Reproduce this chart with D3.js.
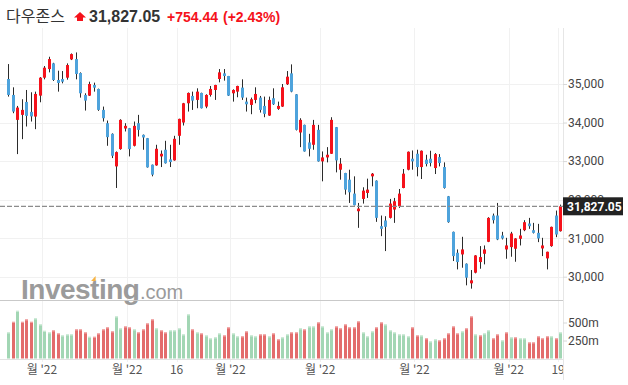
<!DOCTYPE html>
<html>
<head>
<meta charset="utf-8">
<script src="https://cdn.jsdelivr.net/npm/d3@7"></script>
<style>
  body { margin: 0; background: #fff; }
  svg { display: block; }
</style>
</head>
<body>
<svg id="chart" width="628" height="385"></svg>
<script>
// trading days, 2022-01-20 .. 2022-07-19
const dates = [
  "2022-01-20","2022-01-21","2022-01-24","2022-01-25","2022-01-26","2022-01-27","2022-01-28","2022-01-31",
  "2022-02-01","2022-02-02","2022-02-03","2022-02-04","2022-02-07","2022-02-08","2022-02-09","2022-02-10",
  "2022-02-11","2022-02-14","2022-02-15","2022-02-16","2022-02-17","2022-02-18","2022-02-22","2022-02-23",
  "2022-02-24","2022-02-25","2022-02-28",
  "2022-03-01","2022-03-02","2022-03-03","2022-03-04","2022-03-07","2022-03-08","2022-03-09","2022-03-10",
  "2022-03-11","2022-03-14","2022-03-15","2022-03-16","2022-03-17","2022-03-18","2022-03-21","2022-03-22",
  "2022-03-23","2022-03-24","2022-03-25","2022-03-28","2022-03-29","2022-03-30","2022-03-31",
  "2022-04-01","2022-04-04","2022-04-05","2022-04-06","2022-04-07","2022-04-08","2022-04-11","2022-04-12",
  "2022-04-13","2022-04-14","2022-04-18","2022-04-19","2022-04-20","2022-04-21","2022-04-22","2022-04-25",
  "2022-04-26","2022-04-27","2022-04-28","2022-04-29",
  "2022-05-02","2022-05-03","2022-05-04","2022-05-05","2022-05-06","2022-05-09","2022-05-10","2022-05-11",
  "2022-05-12","2022-05-13","2022-05-16","2022-05-17","2022-05-18","2022-05-19","2022-05-20","2022-05-23",
  "2022-05-24","2022-05-25","2022-05-26","2022-05-27","2022-05-31",
  "2022-06-01","2022-06-02","2022-06-03","2022-06-06","2022-06-07","2022-06-08","2022-06-09","2022-06-10",
  "2022-06-13","2022-06-14","2022-06-15","2022-06-16","2022-06-17","2022-06-21","2022-06-22","2022-06-23",
  "2022-06-24","2022-06-27","2022-06-28","2022-06-29","2022-06-30",
  "2022-07-01","2022-07-05","2022-07-06","2022-07-07","2022-07-08","2022-07-11","2022-07-12","2022-07-13",
  "2022-07-14","2022-07-15","2022-07-18","2022-07-19"
];

const open = [
  35129,34716,34069,34199,34535,34276,34155,34698,35164,35388,35535,35104,35129,35164,35638,35647,
  35285,34716,34698,34974,34871,34328,33983,33707,32862,33311,33845,33854,33397,33983,33681,33595,
  32906,32888,33121,33294,33044,33018,33656,34000,34500,34690,34587,34768,34414,34716,34845,35130,
  35276,35207,34759,34802,34906,34543,34457,34587,34647,34431,34181,34630,34354,34414,34992,35276,
  34733,33742,33940,33483,33423,33811,32992,33095,33190,33880,32776,32690,32518,32156,31699,32018,
  32173,32604,32492,31311,31458,31527,31742,31828,32302,32776,33061,33190,32845,33035,33061,32819,
  33104,32845,32087,31164,30621,30578,30337,29828,30104,30380,30595,30906,31587,31587,31069,30707,
  30768,30725,30983,31207,31380,31207,31138,30733,30475,30794,31587,31181
];
const high = [
  35517,34914,34431,34604,34845,34785,34802,35180,35466,35707,35550,35345,35336,35535,35793,35819,
  35302,34759,35060,35035,34880,34414,34052,33720,33250,34086,33983,33860,34026,34199,33690,33600,
  32910,33423,33276,33526,33423,33656,34100,34510,34780,34802,34888,34775,34733,34949,34980,35388,
  35388,35210,34862,34955,35121,34647,34647,34914,34690,34673,34673,34888,34543,35000,35336,35509,
  34740,34112,33945,33707,34069,33940,33250,33362,34138,33885,33078,32695,32776,32604,31914,32320,
  32544,32690,32500,31587,31570,32018,32044,32276,32794,33250,33276,33294,33276,33164,33268,33207,
  33181,32966,32095,31170,30707,31035,30345,30173,30560,30794,30811,31544,31638,31914,31164,31009,
  31164,31000,31242,31466,31526,31397,31371,31009,30650,31300,31716,31870
];
const low = [
  34673,34242,33181,33569,33897,34026,33828,34526,35121,35302,35078,34802,35017,35112,35621,35121,
  34647,34311,34690,34802,34302,34026,33397,33078,32302,33294,33768,33121,33380,33638,33294,32830,
  32604,32880,32845,32935,32845,33010,33423,33923,34285,34328,34371,34365,34371,34673,34587,35043,
  35087,34690,34543,34656,34587,34285,34216,34500,34259,34138,34173,34457,34328,34405,34975,34785,
  33794,33362,33245,33121,33294,32985,32475,32966,33185,32707,32518,32130,31914,31850,31268,31897,
  32044,32345,31423,31052,30665,31510,31397,31785,32295,32760,32776,32604,32535,32862,32862,32664,
  32862,32285,31400,30406,30190,30233,29776,29690,30087,30207,30320,30897,31380,30949,30966,30466,
  30518,30388,30811,31181,31242,31121,30897,30535,30190,30776,31026,31170
];
const close = [
  34716,34285,34388,34328,34173,34160,34742,35164,35423,35647,35104,35026,35060,35492,35776,35259,
  34759,34569,35000,34905,34328,34112,33621,33138,33233,34069,33914,33311,33914,33810,33612,32837,
  32647,33319,33190,32944,32975,33578,34095,34500,34768,34569,34802,34371,34716,34871,34974,35302,
  35207,34699,34845,34949,34647,34474,34604,34742,34328,34225,34587,34474,34431,34914,35190,34802,
  33811,34069,33250,33319,33940,32992,33095,33164,34069,33018,32932,32259,32190,31854,31768,32233,
  32259,32673,31527,31242,31294,31897,31958,32156,32673,33242,32992,32845,33268,32923,32949,33181,
  32949,32302,31415,30535,30380,30707,29975,29906,30552,30509,30707,31526,31466,30966,30992,30811,
  31121,30992,31069,31414,31311,31138,30992,30811,30647,31293,31095,31827.05
];
// volume, millions
const volume = [
  361,509,662,509,542,509,556,472,384,361,389,347,319,333,333,403,
  403,361,301,301,347,403,431,375,583,417,444,431,403,361,403,486,
  542,417,389,361,389,389,417,333,611,403,361,347,319,278,292,347,
  319,431,347,306,306,375,319,306,333,333,306,347,264,292,333,361,
  361,417,403,444,444,500,444,361,403,444,417,472,431,431,514,361,
  306,375,431,500,472,389,361,333,333,306,431,319,319,278,236,264,
  250,278,347,444,347,375,417,583,333,319,347,389,278,333,250,361,
  292,292,278,278,222,222,306,278,306,306,278,361
];

const priceTicks = [30000, 31000, 32000, 33000, 34000, 35000];
const volTicks = [250, 500];
const xTickDates = ["2022-02-01","2022-03-01","2022-03-16","2022-04-01","2022-05-02","2022-06-01","2022-07-01","2022-07-19"];
const xTickLabels = ["월 '22","월 '22","16","월 '22","월 '22","월 '22","월 '22","19"];

const titleName = "다우존스";
const lastPrice = "31,827.05";
const change = "+754.44";
const changePct = "(+2.43%)";

const svg = d3.select("#chart");
const plotR = 563;
const UP = "#f5121b", DOWN = "#4ea3dc", WICK = "#2b2b2b";
const VUP = "#a2d6b4", VDOWN = "#e36c6c";
const axisFont = "Roboto, 'Liberation Sans', sans-serif";

const x = d3.scalePoint(dates, [8.3, 560.3]);
const step = x.step();
const y = d3.scaleLinear([30000, 35000], [276.7, 84]);
const yv = d3.scaleLinear([0, 500], [358.5, 322.5]);

const bars = dates.map((d, i) => ({
  d: d, o: open[i], h: high[i], l: low[i], c: close[i], v: volume[i],
  vUp: i === 0 || close[i] >= close[i - 1]
}));

// grid
svg.append("g").selectAll("line")
  .data(priceTicks)
  .enter().append("line")
  .attr("x1", 0).attr("x2", plotR)
  .attr("y1", d => Math.round(y(d)) + 0.5).attr("y2", d => Math.round(y(d)) + 0.5)
  .attr("stroke", "#f1f1f1");

svg.append("g").selectAll("line")
  .data(xTickDates)
  .enter().append("line")
  .attr("x1", d => Math.round(x(d) - step / 2) + 0.5).attr("x2", d => Math.round(x(d) - step / 2) + 0.5)
  .attr("y1", 28).attr("y2", 362)
  .attr("stroke", "#f1f1f1");

// watermark
const wm = svg.append("g").attr("opacity", 0.85);
const inv = wm.append("text")
  .attr("x", 21).attr("y", 299)
  .style("font", "bold 28px 'Liberation Sans', Arial, sans-serif")
  .style("letter-spacing", "-0.5px")
  .attr("fill", "#8a8a8a")
  .text("Investing");
const invW = inv.node().getComputedTextLength();
wm.append("text")
  .attr("x", 21 + invW + 0.5).attr("y", 299)
  .style("font", "20px 'Liberation Sans', Arial, sans-serif")
  .attr("fill", "#8a8a8a")
  .text(".com");
// orange cap on the "t"
const tX = 21 + inv.node().getSubStringLength(0, 5);
wm.append("path")
  .attr("d", `M${tX + 1},281 L${tX + 5.5},276 L${tX + 5.5},281 Z`)
  .attr("fill", "#f6a623");

// panel lines
svg.append("line").attr("x1", 0).attr("x2", plotR).attr("y1", 300.5).attr("y2", 300.5).attr("stroke", "#c9c9c9");
svg.append("line").attr("x1", 0).attr("x2", plotR).attr("y1", 359.5).attr("y2", 359.5).attr("stroke", "#e2e2e2");
svg.append("line").attr("x1", plotR + 0.5).attr("x2", plotR + 0.5).attr("y1", 28).attr("y2", 380).attr("stroke", "#e6e6e6");

// candles
const cg = svg.append("g");
cg.selectAll(".wick")
  .data(bars)
  .enter().append("line")
  .attr("class", "wick")
  .attr("x1", d => Math.round(x(d.d)) + 0.5).attr("x2", d => Math.round(x(d.d)) + 0.5)
  .attr("y1", d => y(d.h)).attr("y2", d => y(d.l))
  .attr("stroke", WICK)
  .attr("stroke-width", 1);

cg.selectAll(".body")
  .data(bars)
  .enter().append("rect")
  .attr("class", "body")
  .attr("x", d => Math.round(x(d.d)) - 1)
  .attr("width", 3)
  .attr("y", d => y(Math.max(d.o, d.c)))
  .attr("height", d => Math.max(1.5, Math.abs(y(d.o) - y(d.c))))
  .attr("fill", d => d.c >= d.o ? UP : DOWN);

// volume
const vg = svg.append("g");
vg.selectAll(".vol")
  .data(bars)
  .enter().append("rect")
  .attr("class", "vol")
  .attr("x", d => Math.round(x(d.d)) - 1)
  .attr("width", 3)
  .attr("y", d => yv(d.v))
  .attr("height", d => yv(0) - yv(d.v))
  .attr("fill", d => d.vUp ? VUP : VDOWN);
vg.selectAll(".volcap")
  .data(bars)
  .enter().append("rect")
  .attr("class", "volcap")
  .attr("x", d => Math.round(x(d.d)) - 1)
  .attr("width", 3)
  .attr("y", d => yv(d.v))
  .attr("height", 1)
  .attr("fill", d => d.vUp ? "#cdebd7" : "#f2a7a7");

// last price line
svg.append("line")
  .attr("x1", 0).attr("x2", plotR)
  .attr("y1", y(close[close.length - 1])).attr("y2", y(close[close.length - 1]))
  .attr("stroke", "#8c8c8c")
  .attr("stroke-width", 1.2)
  .attr("stroke-dasharray", "5,2");

// right price axis
const yAxis = d3.axisRight(y).tickValues(priceTicks).tickSize(4).tickFormat(d3.format(","));
const ya = svg.append("g").attr("transform", `translate(${plotR},0)`).call(yAxis);
ya.select(".domain").remove();
ya.selectAll(".tick line").attr("stroke", "#d8d8d8");
ya.selectAll(".tick text").attr("x", 5).attr("fill", "#444").style("font", `12px ${axisFont}`);

const vAxis = d3.axisRight(yv).tickValues(volTicks).tickSize(4).tickFormat(d => d + "m");
const va = svg.append("g").attr("transform", `translate(${plotR},0)`).call(vAxis);
va.select(".domain").remove();
va.selectAll(".tick line").attr("stroke", "#d8d8d8");
va.selectAll(".tick text").attr("x", 5).attr("fill", "#444").style("font", `12px ${axisFont}`);

// last price tag (sits over the 32,000 label, as in the source)
const tag = svg.append("g").attr("transform", `translate(${plotR},${y(close[close.length - 1])})`);
tag.append("rect").attr("x", 0).attr("y", -9).attr("width", 60).attr("height", 18).attr("fill", "#222");
tag.append("text")
  .attr("x", 4).attr("y", 4.5)
  .attr("fill", "#fff")
  .style("font", `bold 12px ${axisFont}`)
  .text(lastPrice);

// x axis labels
svg.append("clipPath").attr("id", "xclip")
  .append("rect").attr("x", 0).attr("y", 360).attr("width", plotR).attr("height", 25);
svg.append("g").attr("clip-path", "url(#xclip)")
  .selectAll("text")
  .data(xTickDates)
  .enter().append("text")
  .attr("x", d => x(d) - step / 2)
  .attr("y", 374)
  .attr("text-anchor", "middle")
  .attr("fill", "#555")
  .style("font", `12px 'Noto Sans CJK KR', ${axisFont}`)
  .text((d, i) => xTickLabels[i]);

// header
svg.append("text")
  .attr("x", 6).attr("y", 22)
  .attr("fill", "#333")
  .style("font", "16px 'Noto Sans CJK KR', sans-serif")
  .text(titleName);
svg.append("path")
  .attr("d", "M80,12 L86,17.5 L83,17.5 L83,21 L77,21 L77,17.5 L74,17.5 Z")
  .attr("fill", "#f5121b");
svg.append("text")
  .attr("x", 89).attr("y", 22)
  .attr("fill", "#333")
  .style("font", "bold 16px 'Liberation Sans', Arial, sans-serif")
  .text(lastPrice);
svg.append("text")
  .attr("x", 167).attr("y", 22)
  .attr("fill", "#f5121b")
  .style("font", "bold 14px 'Liberation Sans', Arial, sans-serif")
  .text(change);
svg.append("text")
  .attr("x", 223).attr("y", 22)
  .attr("fill", "#f5121b")
  .style("font", "bold 14px 'Liberation Sans', Arial, sans-serif")
  .text(changePct);
</script>
</body>
</html>
